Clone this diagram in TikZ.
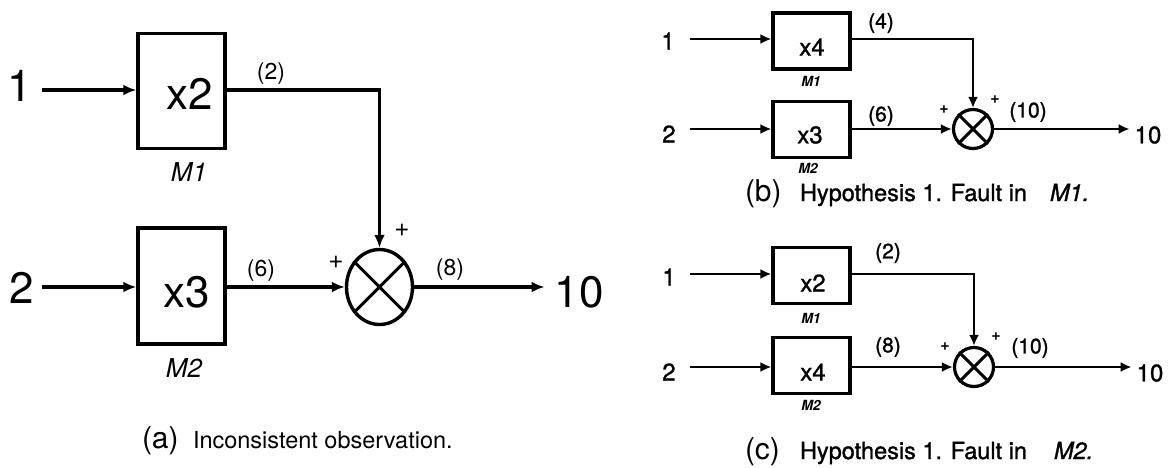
\documentclass[tikz,border=0pt]{standalone}
\usepackage{fontspec}
\setmainfont{TeX Gyre Heros}
\newfontfamily\heavy[FakeBold=1.2]{TeX Gyre Heros}
\usetikzlibrary{arrows.meta,shapes.geometric}
\newcommand{\fsz}[1]{\fontsize{#1}{#1}\selectfont}
\begin{document}
\begin{tikzpicture}[x=1pt,y=-1pt,
  lbl/.style={inner sep=0pt,outer sep=0pt},
  blkA/.style={draw,line width=3.4pt,inner sep=0pt,minimum width=87pt},
  blkB/.style={draw,line width=3.2pt,inner sep=0pt,minimum width=77pt,minimum height=56pt},
  arrA/.style={line width=3.1pt,-{Latex[length=13pt,width=11pt]}},
  arrB/.style={line width=2.9pt,-{Latex[length=11pt,width=10pt]}},
  sumA/.style={draw,ellipse,line width=3.4pt,minimum width=66pt,minimum height=75pt,inner sep=0pt},
  sumB/.style={draw,circle,line width=3.2pt,minimum size=39pt,inner sep=0pt},
  bigA/.style={lbl,font=\fsz{44}},
  modA/.style={lbl,font=\fsz{26}\itshape},
  sigA/.style={lbl,font=\fsz{23}},
  numB/.style={lbl,font=\heavy\fsz{24}},
  modB/.style={lbl,font=\fsz{14}\bfseries\itshape},
  sigB/.style={lbl,font=\heavy\fsz{21}},
  plusA/.style={lbl,font=\fsz{26}},
  plusB/.style={lbl,font=\fsz{16}\bfseries},
  capL/.style={lbl,anchor=base west,font=\fsz{30}},
  capT/.style={lbl,anchor=base west,font=\heavy\fsz{23.5}}
]
\useasboundingbox (0,0) rectangle (1176,467);

% ---------------- panel (a) ----------------
\node[bigA] (a1) at (20,86) {1};
\node[bigA] (a2) at (22,288) {2};
\coordinate (a1s) at (42,90);
\coordinate (a2s) at (42,287);
\node[blkA,minimum height=115pt] (am1) at (181.5,91) {};
\node[blkA,minimum height=116pt] (am2) at (181.5,286) {};
\node[bigA] (ax2) at (190,94) {x2};
\node[bigA] (ax3) at (187,292) {x3};
\node[modA] (aM1) at (189,172) {M1};
\node[modA] (aM2) at (184,368) {M2};
\node[sumA] (as) at (379.5,287) {};
\draw[line width=3.1pt] (as.45) -- (as.225) (as.135) -- (as.315);
\node[sigA] (al2) at (271,74) {(2)};
\node[sigA] (al6) at (261,271) {(6)};
\node[sigA] (al8) at (450,270) {(8)};
\node[plusA] (apt) at (402,230) {+};
\node[plusA] (apl) at (336,262) {+};
\node[bigA] (a10) at (579,292) {10};
\draw[arrA] (a1s) -- (a1s -| am1.west);
\draw[arrA] (a2s) -- (a2s -| am2.west);
\draw[arrA] (am1.east |- a1s) -| (as.north);
\draw[arrA] (am2.east |- a2s) -- (as.west);
\draw[arrA,shorten >=10pt] (as.east) -- (as.east -| a10.west);
\node[capL] (acap) at (142,448) {(a)};
\node[lbl,anchor=base west,font=\fsz{23.5}] (atxt) at (193,448) {Inconsistent observation.};

% ---------------- panel (b) ----------------
\node[numB] (b1) at (668,41) {1};
\node[numB] (b2) at (669,134) {2};
\coordinate (b1s) at (690,39);
\coordinate (b2s) at (690,129);
\node[blkB] (bm1) at (811.5,41) {};
\node[blkB] (bm2) at (811.5,129.5) {};
\node[numB] (bx4) at (812,47) {x4};
\node[numB] (bx3) at (810,135) {x3};
\node[modB] (bM1) at (811,81) {M1};
\node[modB] (bM2) at (808,168) {M2};
\node[sumB] (bs) at (973,129) {};
\draw[line width=2.9pt] (bs.45) -- (bs.225) (bs.135) -- (bs.315);
\node[sigB] (bl4) at (881,23) {(4)};
\node[sigB] (bl6) at (881,116) {(6)};
\node[plusB] (bpl) at (944,110) {+};
\node[plusB] (bpt) at (995,100) {+};
\node[sigB] (bl10) at (1028,112) {(10)};
\node[numB] (b10) at (1148,135) {10};
\draw[arrB] (b1s) -- (b1s -| bm1.west);
\draw[arrB] (b2s) -- (b2s -| bm2.west);
\draw[arrB] (bm1.east |- b1s) -| (bs.north);
\draw[arrB] (bm2.east |- b2s) -- (bs.west);
\draw[arrB,shorten >=5pt] (bs.east) -- (bs.east -| b10.west);
\node[capL] (bcap) at (745,201) {(b)};
\node[capT] (bt1) at (800,201) {Hypothesis 1. Fault in};
\node[capT,font=\heavy\fsz{23.5}\itshape] (bt4) at (1050,201) {M1.};

% ---------------- panel (c) ----------------
\node[numB] (c1) at (669,277) {1};
\node[numB] (c2) at (669,372) {2};
\coordinate (c1s) at (690,274);
\coordinate (c2s) at (690,367);
\node[blkB] (cm1) at (811.5,275.5) {};
\node[blkB] (cm2) at (811.5,365.5) {};
\node[numB] (cx2) at (813,283) {x2};
\node[numB] (cx4) at (813,372) {x4};
\node[modB] (cM1) at (811,318) {M1};
\node[modB] (cM2) at (811,405) {M2};
\node[sumB] (cs) at (974,367) {};
\draw[line width=2.9pt] (cs.45) -- (cs.225) (cs.135) -- (cs.315);
\node[sigB] (cl2) at (888,253) {(2)};
\node[sigB] (cl8) at (888,347) {(8)};
\node[plusB] (cpl) at (945,347) {+};
\node[plusB] (cpt) at (996,337) {+};
\node[sigB] (cl10) at (1030,348) {(10)};
\node[numB] (c10) at (1150,373) {10};
\draw[arrB] (c1s) -- (c1s -| cm1.west);
\draw[arrB] (c2s) -- (c2s -| cm2.west);
\draw[arrB] (cm1.east |- c1s) -| (cs.north);
\draw[arrB] (cm2.east |- c2s) -- (cs.west);
\draw[arrB,shorten >=5pt] (cs.east) -- (cs.east -| c10.west);
\node[capL] (ccap) at (745,459) {(c)};
\node[capT] (ct1) at (800,459) {Hypothesis 1. Fault in};
\node[capT,font=\heavy\fsz{23.5}\itshape] (ct4) at (1054,459) {M2.};
\end{tikzpicture}
\end{document}
